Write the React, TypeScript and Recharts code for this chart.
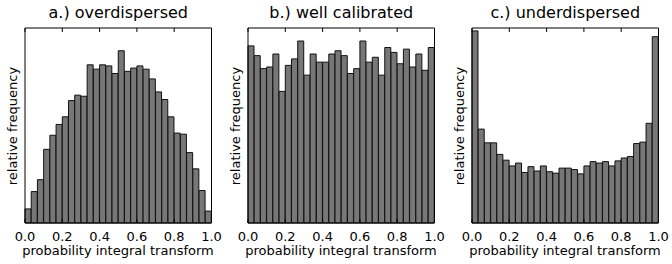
import { BarChart, Bar, XAxis, YAxis } from 'recharts';

// bin-centre positions of the 30 PIT bins
const binMids = [
  0.0167, 0.05, 0.0833, 0.1167, 0.15, 0.1833, 0.2167, 0.25, 0.2833, 0.3167,
  0.35, 0.3833, 0.4167, 0.45, 0.4833, 0.5167, 0.55, 0.5833, 0.6167, 0.65,
  0.6833, 0.7167, 0.75, 0.7833, 0.8167, 0.85, 0.8833, 0.9167, 0.95, 0.9833,
];

// relative frequencies (density)
const overdispersed = [
  0.13, 0.29, 0.4, 0.68, 0.81, 0.91, 0.98, 1.13, 1.18, 1.17,
  1.46, 1.42, 1.46, 1.45, 1.38, 1.59, 1.4, 1.43, 1.45, 1.42,
  1.33, 1.21, 1.14, 0.98, 0.83, 0.82, 0.65, 0.5, 0.3, 0.11,
];
const wellCalibrated = [
  1.09, 1.03, 0.95, 0.96, 1.04, 0.81, 0.97, 1.01, 1.12, 0.91,
  1.04, 0.99, 0.99, 1.04, 1.06, 1.03, 0.92, 0.95, 1.12, 0.99,
  1.02, 0.91, 1.08, 1.05, 0.98, 1.07, 0.96, 1.04, 0.94, 1.08,
];
const underdispersed = [
  2.66, 1.3, 1.11, 1.11, 0.95, 0.87, 0.79, 0.83, 0.7, 0.78,
  0.72, 0.79, 0.71, 0.69, 0.76, 0.76, 0.74, 0.68, 0.79, 0.85,
  0.83, 0.85, 0.79, 0.86, 0.9, 0.92, 1.1, 1.12, 1.38, 2.58,
];

const xTicks = [0, 0.2, 0.4, 0.6, 0.8, 1.0];
const titles = ['a.) overdispersed', 'b.) well calibrated', 'c.) underdispersed'];
const yMax = [1.8, 1.2, 2.7];

const FONT = '"DejaVu Sans", sans-serif';

function BottomTick(props: any) {
  const { x, y, payload } = props;
  return (
    <g>
      <line x1={x} y1={y} x2={x} y2={y - 4} stroke="#000" />
      <text x={x} y={y + 18} textAnchor="middle" fontSize={13} fontFamily={FONT} fill="#000">
        {Number(payload.value).toFixed(1)}
      </text>
    </g>
  );
}

function TopTick(props: any) {
  const { x, y } = props;
  return <line x1={x} y1={y} x2={x} y2={y + 4} stroke="#000" />;
}

function Panel({ values, title, top, left }: { values: number[]; title: string; top: number; left: number }) {
  const data = binMids.map((mid, i) => ({ mid, v: values[i] }));
  return (
    <div style={{ position: 'absolute', left, top: 0, width: 224, height: 264 }}>
      <div
        style={{
          position: 'absolute', left: 25, width: 186.5, top: 3, textAlign: 'center',
          fontFamily: FONT, fontSize: 16, lineHeight: '20px', whiteSpace: 'nowrap',
        }}
      >
        {title}
      </div>
      <div
        style={{
          position: 'absolute', left: 13, top: 125.5, fontFamily: FONT, fontSize: 13,
          whiteSpace: 'nowrap', transform: 'translate(-50%, -50%) rotate(-90deg)', lineHeight: '16px',
        }}
      >
        relative frequency
      </div>
      <div
        style={{
          position: 'absolute', left: 0, width: 236, top: 243, textAlign: 'center',
          fontFamily: FONT, fontSize: 13, lineHeight: '16px', whiteSpace: 'nowrap',
        }}
      >
        probability integral transform
      </div>
      <BarChart
        width={224}
        height={264}
        data={data}
        margin={{ top: 27, right: 11.5, bottom: 40, left: 24 }}
        barCategoryGap={0}
        barGap={0}
      >
        <XAxis
          dataKey="mid"
          type="number"
          domain={[0, 1]}
          ticks={xTicks}
          height={1}
          tickSize={0}
          tickMargin={0}
          tick={<BottomTick />}
          axisLine={{ stroke: '#000' }}
          tickLine={false}
          interval={0}
        />
        <XAxis
          xAxisId="top"
          orientation="top"
          dataKey="mid"
          type="number"
          domain={[0, 1]}
          ticks={xTicks}
          height={1}
          tickSize={0}
          tickMargin={0}
          tick={<TopTick />}
          axisLine={{ stroke: '#000' }}
          tickLine={false}
          interval={0}
        />
        <YAxis domain={[0, top]} width={1} tick={false} tickLine={false} axisLine={{ stroke: '#000' }} />
        <YAxis
          yAxisId="right"
          orientation="right"
          domain={[0, 1]}
          width={1}
          tick={false}
          tickLine={false}
          axisLine={{ stroke: '#000' }}
        />
        <Bar dataKey="v" fill="#777777" stroke="#111111" strokeWidth={1} isAnimationActive={false} />
      </BarChart>
    </div>
  );
}

export default function App() {
  const series = [overdispersed, wellCalibrated, underdispersed];
  const lefts = [0, 223, 447];
  return (
    <div style={{ position: 'absolute', left: 0, top: 0, width: 672, height: 264, background: '#fff' }}>
      {series.map((values, i) => (
        <Panel key={i} values={values} title={titles[i]} top={yMax[i]} left={lefts[i]} />
      ))}
    </div>
  );
}
